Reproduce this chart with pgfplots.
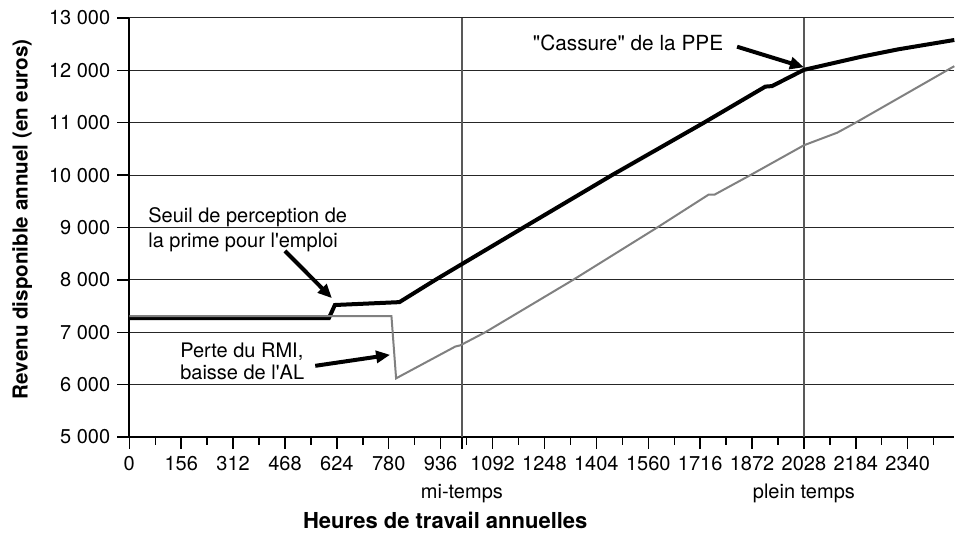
\documentclass[border=0pt]{standalone}
\usepackage{fontspec}
\setmainfont{TeX Gyre Heros}
\usepackage{pgfplots}
\pgfplotsset{compat=1.18}
\usetikzlibrary{arrows.meta}

\begin{document}
\begin{tikzpicture}
\begin{axis}[
  scale only axis,
  width=412.5pt, height=209.5pt,
  xmin=0, xmax=2480, ymin=5000, ymax=13000,
  axis lines*=left,
  axis line style={line width=0.8pt},
  clip=false,
  xtick={0,156,...,2340},
  minor xtick={78,234,...,2418},
  ytick={5000,6000,...,13000},
  scaled y ticks=false,
  tick align=outside,
  major tick length=6pt, minor tick length=4pt,
  tick style={black, line width=0.7pt},
  ymajorgrids=true,
  major grid style={black!85, line width=0.5pt},
  /pgf/number format/assume math mode=true,
  y tick label style={/pgf/number format/fixed, /pgf/number format/1000 sep={\ }},
  x tick label style={/pgf/number format/1000 sep={}},
  tick label style={font=\fontsize{10}{12}\selectfont},
  extra x ticks={1000,2028},
  extra x tick labels={mi-temps, plein temps},
  extra x tick style={grid=major, major grid style={black!65, line width=0.8pt},
    tick label style={yshift=-14pt}},
  xlabel={Heures de travail annuelles},
  ylabel={Revenu disponible annuel (en euros)},
  xlabel style={font=\fontsize{11}{13}\bfseries, at={(axis description cs:0.383,-0.198)}, anchor=center},
  ylabel style={font=\fontsize{10.3}{12}\bfseries, at={(axis description cs:-0.1297,0.52)}, anchor=center},
]
% revenu avec PPE
\addplot[black, line width=2pt] coordinates {
  (0,7270) (600,7270) (618,7520) (812,7575) (920,8000) (1185,9000)
  (1451,10000) (1727,11000) (1912,11690) (1932,11700) (2028,12010)
  (2200,12260) (2310,12400) (2480,12580)
};
% revenu sans PPE
\addplot[black!50, line width=1pt] coordinates {
  (0,7310) (788,7310) (802,6120) (980,6727) (995,6750) (1070,7000)
  (1334,8000) (1587,9000) (1742,9630) (1760,9630) (1867,10000)
  (2028,10570) (2128,10810) (2183,11000) (2480,12080)
};

\node[anchor=west, align=left, inner sep=0pt, font=\fontsize{10}{12.5}\selectfont]
  at (axis cs:56,8964) {Seuil de perception de\\la prime pour l\textquotesingle emploi};
\draw[line width=2pt, -{Triangle[length=7pt,width=6pt]}] (axis cs:468,8553) -- (axis cs:609,7651);

\node[anchor=west, align=left, inner sep=0pt, font=\fontsize{10}{11}\selectfont]
  at (axis cs:152,6450) {Perte du RMI,\\baisse de l\textquotesingle AL};
\draw[line width=2pt, -{Triangle[length=7pt,width=6pt]}] (axis cs:559,6359) -- (axis cs:784,6569);

\node[anchor=west, inner sep=0pt, font=\fontsize{10.4}{12}\selectfont]
  at (axis cs:1212,12517) {\textquotedbl Cassure\textquotedbl{} de la PPE};
\draw[line width=2pt, -{Triangle[length=7pt,width=6pt]}] (axis cs:1827,12452) -- (axis cs:2028,12059);
\end{axis}
\pgfresetboundingbox
\path[use as bounding box] ([shift={(-64.65pt,-48.5pt)}]current axis.south west)
  rectangle ([shift={(1.85pt,9pt)}]current axis.north east);
\end{tikzpicture}
\end{document}
